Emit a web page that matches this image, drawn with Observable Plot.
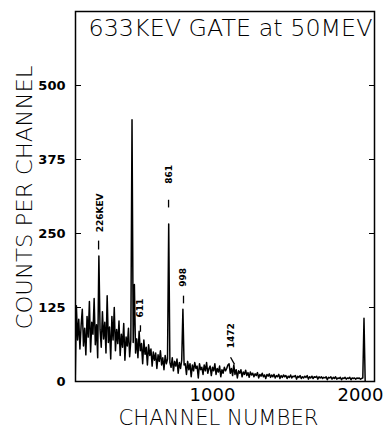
<!DOCTYPE html>
<html><head><meta charset="utf-8">
<script src="https://cdn.jsdelivr.net/npm/d3@7"></script>
<script src="https://cdn.jsdelivr.net/npm/@observablehq/plot@0.6"></script>
<style>body{margin:0;background:#fff} svg{display:block}</style>
</head><body><div id="chart"></div>
<script>
const title = "633KEV GATE at 50MEV";
const xLabel = "CHANNEL NUMBER";
const yLabel = "COUNTS PER CHANNEL";
const yTicks = [0, 125, 250, 375, 500];
const xTicks = [1000, 2000];
const startChannel = 72;
const channelStep = 8;
const counts = [
  0,128,70,105,55,95,122,60,90,45,110,75,135,50,100,80,
  140,62,96,40,212,88,58,118,72,100,48,145,66,92,38,110,
  70,125,52,88,64,102,44,80,58,98,36,75,60,90,42,70,
  442,66,164,48,72,40,85,52,64,30,70,46,58,28,62,44,
  55,26,50,36,48,22,45,34,52,28,40,20,44,30,38,266,
  32,24,40,18,34,26,38,14,32,22,36,122,28,30,12,34,
  20,30,8,28,18,32,22,26,6,30,20,24,12,28,18,32,
  14,22,26,10,24,18,30,12,22,16,26,8,20,14,24,18,
  22,28,30,14,22,10,28,12,20,6,18,14,20,8,16,12,
  19,10,15,7,16,11,14,8,13,10,15,6,12,9,14,8,
  11,5,12,9,13,7,11,8,12,6,10,8,12,5,10,7,
  11,8,10,5,9,7,11,6,9,8,10,4,9,7,10,5,
  8,6,9,7,10,4,8,6,9,5,8,7,9,4,8,6,
  8,5,7,6,8,3,7,6,8,4,7,5,8,4,6,5,
  7,3,6,5,7,4,6,5,7,3,6,5,6,4,6,5,
  6,4,5,6,107,0
];
const peakLabels = ["226KEV", "611", "861", "998", "1472"];
const peakLabelChannel = [243, 513, 710, 804, 1129];
const peakLabelCount = [252, 108, 334, 160, 56];
const markerX1 = [230, 513, 703, 804, 1122];
const markerY1 = [238, 95, 307, 145, 41];
const markerX2 = [230, 513, 703, 804, 1149];
const markerY2 = [223, 84, 294, 132, 29];

const spectrum = counts.map((c, i) => ({channel: startChannel + i * channelStep, count: c}));
const labels = peakLabels.map((t, i) => ({text: t, x: peakLabelChannel[i], y: peakLabelCount[i]}));
const markers = markerX1.map((x, i) => ({x1: x, y1: markerY1[i], x2: markerX2[i], y2: markerY2[i]}));

const font = "DejaVu Sans";
const chart = Plot.plot({
  width: 387, height: 431,
  marginLeft: 75, marginRight: 13, marginTop: 11, marginBottom: 50,
  style: {background: "#fff", color: "#000", fontFamily: font},
  x: {domain: [74, 2095]},
  y: {domain: [0, 625]},
  marks: [
    Plot.line(spectrum, {x: "channel", y: "count", stroke: "#000", strokeWidth: 1.5, clip: true}),
    Plot.link(markers, {x1: "x1", y1: "y1", x2: "x2", y2: "y2", stroke: "#000", strokeWidth: 1.3}),
    Plot.text(labels, {x: "x", y: "y", text: "text", rotate: -90, textAnchor: "start", lineAnchor: "middle", fontSize: 9, fontWeight: "bold", fill: "#000"}),
    Plot.axisY({anchor: "left", ticks: yTicks, tickSize: -6, tickPadding: 16, label: null, fontSize: 13, fontWeight: "bold"}),
    Plot.axisY({anchor: "right", ticks: yTicks, tickSize: -6, tickFormat: () => "", label: null}),
    Plot.axisX({anchor: "bottom", ticks: xTicks, tickSize: 0, tickPadding: 7, label: null, fontSize: 18, tickFormat: d => String(d)}),
    Plot.frame({stroke: "#000", strokeWidth: 1.5}),
    Plot.text([title], {frameAnchor: "top-left", dx: 13, dy: 17, textAnchor: "start", lineAnchor: "middle", fontSize: 23, fill: "#000"}),
    Plot.text([xLabel], {frameAnchor: "bottom-left", dx: 43, dy: 37, textAnchor: "start", lineAnchor: "middle", fontSize: 20.5, fill: "#000"}),
    Plot.text([yLabel], {frameAnchor: "left", dx: -50, dy: 133, rotate: -90, textAnchor: "start", lineAnchor: "middle", fontSize: 20.5, fill: "#000"})
  ]
});
document.getElementById("chart").append(chart);
const fit = {[title]: 284, [xLabel]: 200, [yLabel]: 264};
chart.querySelectorAll("text").forEach(t => {
  const w = fit[t.textContent];
  if (w) { t.setAttribute("textLength", w); t.setAttribute("lengthAdjust", "spacingAndGlyphs"); t.setAttribute("font-weight", "200"); }
});
</script>
</body></html>
